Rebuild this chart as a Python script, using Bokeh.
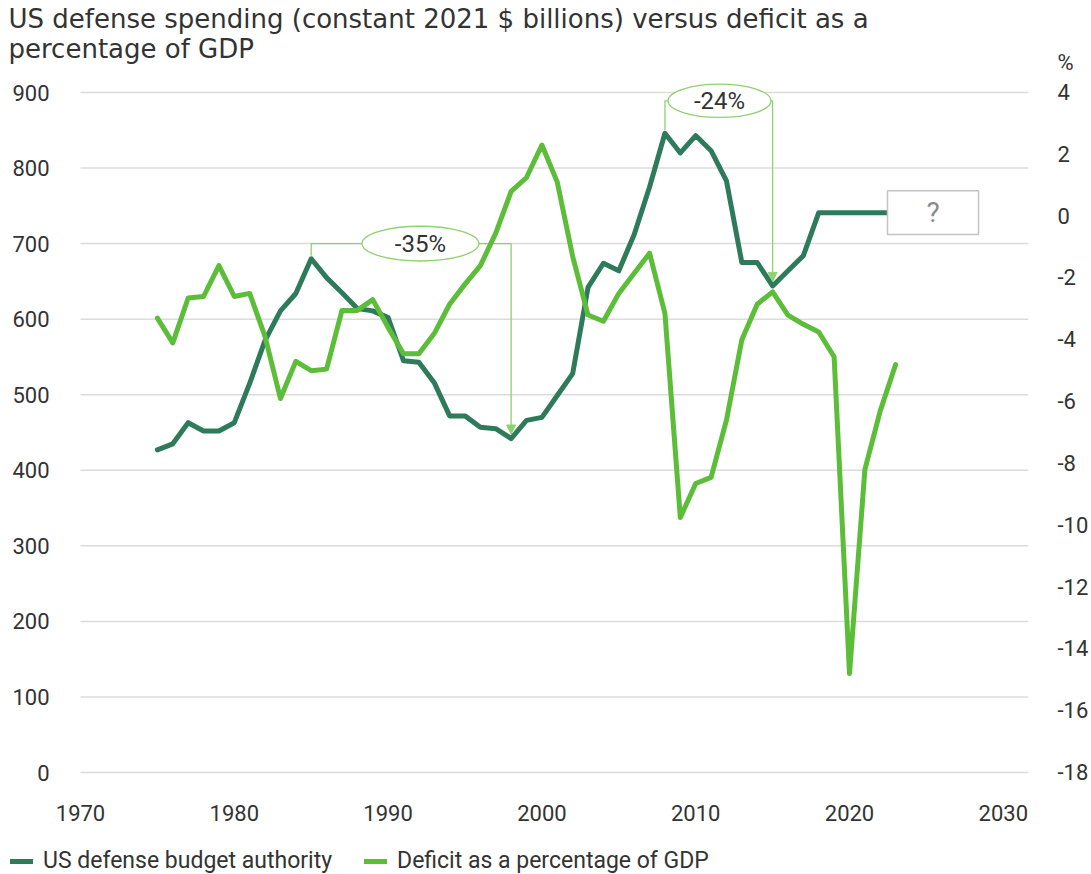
from bokeh.plotting import figure
from bokeh.models import (Range1d, LinearAxis, Legend, LegendItem,
                          Arrow, NormalHead, FixedTicker)
from bokeh.embed import file_html
from bokeh.resources import INLINE
from bokeh.core.properties import value

# ---------------- data ----------------
years = list(range(1975, 2024))
defense = [427, 435, 463, 452, 452, 463, 515, 572, 611, 634,
           680, 655, 635, 614, 611, 602, 545, 543, 516, 472,
           472, 457, 455, 442, 466, 470, 499, 528, 642, 674,
           664, 712, 775, 846, 820, 843, 823, 783, 675, 675,
           644, 664, 684, 741, 741, 741, 741, 741, 741]
deficit = [-3.3, -4.1, -2.65, -2.6, -1.6, -2.6, -2.5, -3.9, -5.9, -4.7,
           -5.0, -4.95, -3.05, -3.05, -2.7, -3.6, -4.45, -4.45, -3.8, -2.85,
           -2.2, -1.6, -0.55, 0.8, 1.25, 2.3, 1.1, -1.3, -3.2, -3.4,
           -2.5, -1.85, -1.2, -3.15, -9.75, -8.65, -8.45, -6.6, -4.0, -2.85,
           -2.45, -3.2, -3.5, -3.75, -4.55, -14.8, -8.2, -6.3, -4.8]
x_ticks = [1970, 1980, 1990, 2000, 2010, 2020, 2030]
left_ticks = [0, 100, 200, 300, 400, 500, 600, 700, 800, 900]
right_ticks = [-18, -16, -14, -12, -10, -8, -6, -4, -2, 0, 2, 4]
changes = [("-35%", 1985, 1998), ("-24%", 2008, 2015)]
title_lines = ["US defense spending (constant 2021 $ billions) versus deficit as a",
               "percentage of GDP"]
unit_right = "%"
name_def = "US defense budget authority"
name_gdp = "Deficit as a percentage of GDP"

# ---------------- layout constants (pixels) ----------------
DARK = "#2e7b5c"
LIGHT = "#5cbd39"
ANN = "#8fd16f"
TXT = "#333333"
FONT = "Roboto"
W, H = 1091, 874
RIGHT_PANEL = 63          # frame spans canvas x 0..1028
PX_YR = 15.38             # pixels per year
PX_L = 680 / 900          # pixels per left-axis unit
K = 22 / 900              # right units per left unit
X1970 = 80                # canvas x of 1970
Y900, Y0 = 92, 772        # canvas y of 900 and of 0

x_lo = 1970 - X1970 / PX_YR
x_hi = x_lo + (W - RIGHT_PANEL) / PX_YR
y_hi = 900 + Y900 / PX_L
y_lo = -(H - Y0) / PX_L

p = figure(width=W, height=H, x_range=Range1d(x_lo, x_hi),
           y_range=Range1d(y_lo, y_hi), output_backend="svg",
           toolbar_location=None, min_border_left=0,
           min_border_right=RIGHT_PANEL, min_border_top=0, min_border_bottom=0,
           y_axis_location=None, x_axis_location=None)
p.extra_y_ranges = {"pct": Range1d(-18 + y_lo * K, -18 + y_hi * K)}
p.outline_line_color = None
p.grid.visible = False


def style_axis(ax, standoff, size="22px"):
    ax.axis_line_color = None
    ax.major_tick_line_color = None
    ax.minor_tick_line_color = None
    ax.major_tick_out = 0
    ax.major_tick_in = 0
    ax.minor_tick_out = 0
    ax.minor_tick_in = 0
    ax.major_label_text_font = FONT
    ax.major_label_text_font_size = size
    ax.major_label_text_color = TXT
    ax.major_label_standoff = standoff


# horizontal gridlines from 1970 to the right edge of the plot area
p.segment(x0=[x_ticks[0]] * len(left_ticks), x1=[x_hi] * len(left_ticks),
          y0=left_ticks, y1=left_ticks, line_color="#dcdcdc", line_width=1.5)

# x axis: drawn below its labels, labels pulled up into place
xaxis = LinearAxis(ticker=FixedTicker(ticks=x_ticks),
                   fixed_location=-(830 - Y0) / PX_L)
style_axis(xaxis, -26)
p.add_layout(xaxis, "below")

# left axis labels sit in the white margin left of 1970
laxis = LinearAxis(ticker=FixedTicker(ticks=left_ticks))
style_axis(laxis, -49)
p.add_layout(laxis, "left")

unit_pos = 4 + 30 / (PX_L / K)  # unit label 30 px above the "4" tick
raxis = LinearAxis(y_range_name="pct",
                   ticker=FixedTicker(ticks=right_ticks + [unit_pos]))
overrides = {t: str(t) for t in right_ticks}   # plain hyphen minus signs
overrides[unit_pos] = unit_right
raxis.major_label_overrides = overrides
style_axis(raxis, 29)
p.add_layout(raxis, "right")

# title (two lines) at the top-left
p.text(x=[1970 - 72 / PX_YR] * 2, y=[900 + 74 / PX_L, 900 + 44 / PX_L],
       text=title_lines, text_font=value("DejaVu Sans"), text_font_size="26px",
       text_color=TXT, text_align="left", text_baseline="middle")

# change annotations (under the data lines)
def_by_year = dict(zip(years, defense))
levels = [700, 889]
label_x = [1992.1, 2011.55]
label_w = [7.6, 6.7]
label_h = [46, 44]
for (txt, y0, y1), lvl, xc, ew, eh in zip(changes, levels, label_x, label_w, label_h):
    v0 = def_by_year[y0]
    v1 = def_by_year[y1]
    p.line([y0, y0, y1], [v0 + 4, lvl, lvl], line_color=ANN, line_width=1.3)
    p.add_layout(Arrow(end=NormalHead(size=9, fill_color=ANN, line_color=ANN),
                       x_start=y1, y_start=lvl, x_end=y1, y_end=v1 + 6,
                       line_color=ANN, line_width=1.3))
    p.ellipse(x=[xc], y=[lvl], width=[ew], height=[eh], fill_color="white",
              line_color=ANN, line_width=1.3)
    p.text(x=[xc], y=[lvl], text=[txt], text_font=value(FONT),
           text_font_size="24px", text_color=TXT, text_align="center",
           text_baseline="middle")

r_def = p.line(years, defense, line_color=DARK, line_width=5, line_join="round",
               line_cap="round")
r_gdp = p.line(years, deficit, line_color=LIGHT, line_width=5, line_join="round",
               line_cap="round", y_range_name="pct")

# "?" box at the end of the defense line
p.rect(x=[2025.43], y=[def_by_year[2022]], width=[5.92], height=[58],
       fill_color="white", line_color="#c4c4c4", line_width=1.5)
p.text(x=[2025.43], y=[def_by_year[2022]], text=["?"], text_font=value(FONT),
       text_font_size="28px", text_color="#8a8a8a", text_align="center",
       text_baseline="middle")

# legend at the bottom-left corner
legend = Legend(items=[LegendItem(label=name_def, renderers=[r_def]),
                       LegendItem(label=name_gdp, renderers=[r_gdp])],
                orientation="horizontal", location=(10, 0),
                label_text_font=FONT, label_text_font_size="23px",
                label_text_color=TXT, glyph_width=23, glyph_height=22,
                label_standoff=10, spacing=32, border_line_color=None,
                background_fill_alpha=0, padding=0, margin=0)
p.add_layout(legend, "center")

open("out.html", "w").write(file_html(p, INLINE))
